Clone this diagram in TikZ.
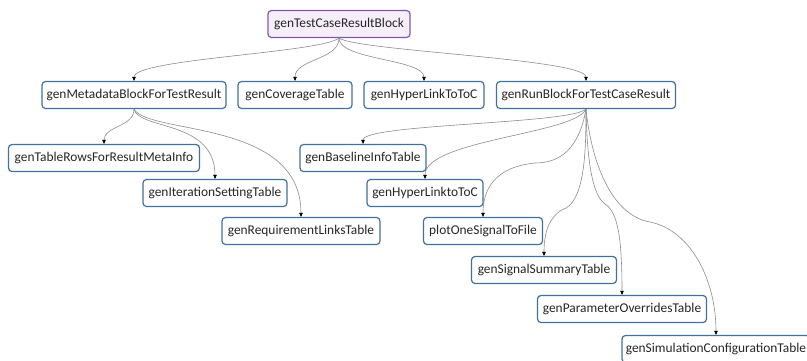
\documentclass[tikz,border=0pt]{standalone}
\usepackage{fontspec}
\setmainfont{Carlito}
\usetikzlibrary{arrows.meta}
\definecolor{boxblue}{HTML}{41719C}
\definecolor{rootpurple}{HTML}{7E5AAE}
\definecolor{rootfill}{HTML}{F6EFFA}
\definecolor{edgegray}{HTML}{8C8C8C}
\tikzset{
  fn/.style={draw=boxblue, line width=1.2pt, rounded corners=3.5pt, fill=white,
    minimum height=27pt, inner xsep=3pt, font=\fontsize{13.4pt}{15pt}\selectfont, text=black!85},
  rootbox/.style={fn, draw=rootpurple, fill=rootfill},
  edge/.style={draw=edgegray, line width=0.6pt, -{Triangle[length=4pt,width=3.5pt,fill=black,color=black]}}
}
\begin{document}
\begin{tikzpicture}[x=1pt,y=-1pt]
\useasboundingbox (0,0) rectangle (807,360);
\node[rootbox, minimum width=142pt] (root) at (339,24) {genTestCaseResultBlock};
\node[fn, minimum width=184pt] (meta) at (134,95) {genMetadataBlockForTestResult};
\node[fn, minimum width=114pt] (cov) at (295,95) {genCoverageTable};
\node[fn, minimum width=120pt] (hl) at (424,95) {genHyperLinkToToC};
\node[fn, minimum width=179pt] (run) at (586,95) {genRunBlockForTestCaseResult};
\node[fn, minimum width=191pt] (rows) at (104,158) {genTableRowsForResultMetaInfo};
\node[fn, minimum width=144pt] (iter) at (215,193) {genIterationSettingTable};
\node[fn, minimum width=158pt] (req) at (301,231) {genRequirementLinksTable};
\node[fn, minimum width=126pt] (base) at (363,158) {genBaselineInfoTable};
\node[fn, minimum width=116pt] (hl2) at (425,193) {genHyperLinktoToC};
\node[fn, minimum width=119pt] (plot) at (483,231) {plotOneSignalToFile};
\node[fn, minimum width=145pt] (sig) at (544,270) {genSignalSummaryTable};
\node[fn, minimum width=169pt] (par) at (622,309) {genParameterOverridesTable};
\node[fn, minimum width=188pt] (sim) at (716,349) {genSimulationConfigurationTable};

% waypoints of the routed splines
\coordinate (wplot) at (535,163);
\coordinate (wsig) at (566,208);
\coordinate (wpar) at (605,204);
\coordinate (wsim) at (650,222);

\draw[edge] (root.south) .. controls +(-20,15) and +(0,-22) .. (meta.north);
\draw[edge] (root.south) .. controls +(0,22) and +(0,-22) .. (cov.north);
\draw[edge] (root.south) .. controls +(0,22) and +(0,-22) .. (hl.north);
\draw[edge] (root.south) .. controls +(20,13) and +(0,-22) .. (run.north);

\draw[edge] (meta.south) .. controls +(0,18) and +(0,-18) .. (rows.north);
\draw[edge] (meta.south) .. controls +(5,21) and +(0,-59) .. (iter.north);
\draw[edge] (meta.south) .. controls +(15,26) and +(0,-98) .. (req.north);

\draw[edge] (run.south) .. controls +(-16,15) and +(0,-20) .. (base.north);
\draw[edge] (run.south) .. controls +(-11,25) and +(0,-39) .. (hl2.north);
\draw[edge] (run.south) .. controls +(-7,40) and +(25,0) .. (wplot)
                        .. controls +(-40,4) and +(0,-28) .. (plot.north);
\draw[edge] (run.south) .. controls +(0,40) and +(19,-11) .. (wsig)
                        .. controls +(-18,7) and +(0,-21) .. (sig.north);
\draw[edge] (run.south) .. controls +(1,50) and +(-13,-9) .. (wpar)
                        .. controls +(13,8) and +(0,-56) .. (par.north);
\draw[edge] (run.south) .. controls +(5,50) and +(-40,-7) .. (wsim)
                        .. controls +(40,8) and +(0,-56) .. (sim.north);
\end{tikzpicture}
\end{document}
